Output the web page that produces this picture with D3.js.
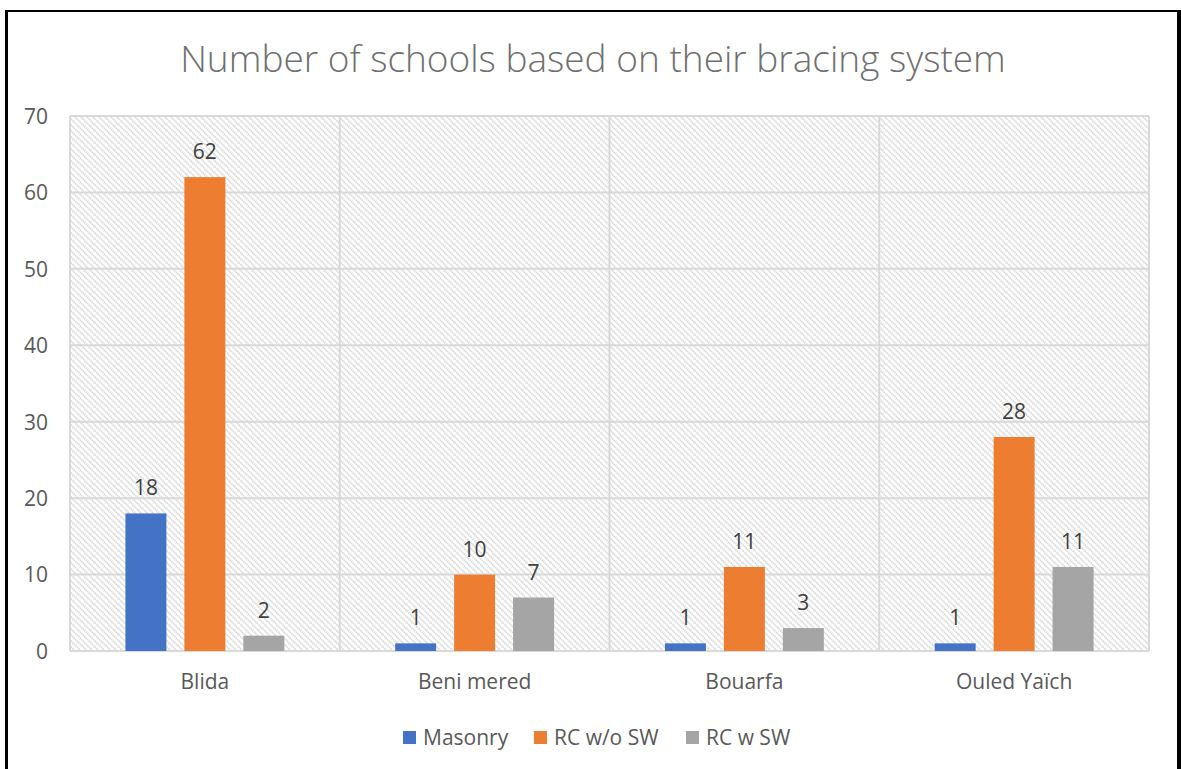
<!DOCTYPE html>
<html>
<head>
<meta charset="utf-8">
<script src="https://cdn.jsdelivr.net/npm/d3@7"></script>
<style>
  html, body { margin: 0; padding: 0; background: #ffffff; }
  svg { display: block; }
  text { font-family: "Open Sans", "Noto Sans", sans-serif; }
</style>
</head>
<body>
<svg id="chart" width="1181" height="769"></svg>
<script>
// Schools per town, split by structural bracing system
const towns = ["Blida", "Beni mered", "Bouarfa", "Ouled Yaïch"];
const seriesNames = ["Masonry", "RC w/o SW", "RC w SW"];
const masonry = [18, 1, 1, 1];
const rcWithoutSW = [62, 10, 11, 28];
const rcWithSW = [2, 7, 3, 11];
const yTicks = [0, 10, 20, 30, 40, 50, 60, 70];
const seriesColors = ["#4472c4", "#ed7d31", "#a5a5a5"];
const titleText = "Number of schools based on their bracing system";

const seriesValues = [masonry, rcWithoutSW, rcWithSW];

const svg = d3.select("#chart");
const W = 1181, H = 769;
const plot = { left: 70, top: 116, right: 1149, bottom: 651 };

// Frame around the chart
const frame = svg.append("g").attr("stroke", "#000").attr("fill", "none");
frame.append("line").attr("x1", 6.5).attr("x2", 6.5).attr("y1", 10).attr("y2", H).attr("stroke-width", 3);
frame.append("line").attr("x1", 5).attr("x2", 1181).attr("y1", 11).attr("y2", 11).attr("stroke-width", 2);
frame.append("line").attr("x1", 1179).attr("x2", 1179).attr("y1", 10).attr("y2", H).attr("stroke-width", 4);

// Diagonal hatch fill for the plot area
const defs = svg.append("defs");
const pat = defs.append("pattern")
  .attr("id", "hatch")
  .attr("patternUnits", "userSpaceOnUse")
  .attr("width", 6).attr("height", 6);
pat.append("rect").attr("width", 6).attr("height", 6).attr("fill", "#ffffff");
pat.append("path")
  .attr("d", "M-1,-1 L7,7 M-1,5 L1,7 M5,-1 L7,1")
  .attr("stroke", "#d6d6d6")
  .attr("stroke-width", 1.7)
  .attr("stroke-dasharray", "1.4,0.6");

svg.append("rect")
  .attr("x", plot.left).attr("y", plot.top)
  .attr("width", plot.right - plot.left)
  .attr("height", plot.bottom - plot.top)
  .attr("fill", "url(#hatch)");

// Scales
const x0 = d3.scaleBand().domain(towns).range([plot.left, plot.right]).padding(0);
const x1 = d3.scaleBand().domain(seriesNames).range([0, x0.bandwidth()])
  .paddingInner(0.305).paddingOuter(0.94);
const y = d3.scaleLinear().domain([0, 70]).range([plot.bottom, plot.top]);

// Horizontal gridlines
svg.append("g")
  .selectAll("line")
  .data(yTicks)
  .join("line")
  .attr("x1", plot.left).attr("x2", plot.right)
  .attr("y1", d => y(d)).attr("y2", d => y(d))
  .attr("stroke", "#d9d9d9").attr("stroke-width", 2);

// Vertical category dividers
const dividers = towns.map(t => x0(t)).concat([plot.right]);
svg.append("g")
  .selectAll("line")
  .data(dividers)
  .join("line")
  .attr("x1", d => d).attr("x2", d => d)
  .attr("y1", plot.top).attr("y2", plot.bottom)
  .attr("stroke", "#d9d9d9").attr("stroke-width", 2);

// Y axis labels
const yAxis = d3.axisLeft(y).tickValues(yTicks).tickSize(0).tickPadding(0);
const yg = svg.append("g").attr("transform", `translate(48,0)`).call(yAxis);
yg.select(".domain").remove();
yg.selectAll("text")
  .attr("fill", "#595959")
  .style("font-size", "21px")
  .attr("dy", "0.35em");

// X axis labels
const xAxis = d3.axisBottom(x0).tickSize(0).tickPadding(0);
const xg = svg.append("g").attr("transform", `translate(0,${plot.bottom + 23})`).call(xAxis);
xg.select(".domain").remove();
xg.selectAll("text")
  .attr("fill", "#595959")
  .style("font-size", "21px")
  .attr("dy", "0.71em");

// Bars
const rows = towns.map((t, i) => ({
  town: t,
  items: seriesNames.map((s, j) => ({ series: s, value: seriesValues[j][i], color: seriesColors[j] }))
}));

const groups = svg.append("g")
  .selectAll("g")
  .data(rows)
  .join("g")
  .attr("transform", d => `translate(${x0(d.town)},0)`);

groups.selectAll("rect")
  .data(d => d.items)
  .join("rect")
  .attr("x", d => x1(d.series))
  .attr("y", d => y(d.value))
  .attr("width", x1.bandwidth())
  .attr("height", d => y(0) - y(d.value))
  .attr("fill", d => d.color);

groups.selectAll("text")
  .data(d => d.items)
  .join("text")
  .attr("x", d => x1(d.series) + x1.bandwidth() / 2)
  .attr("y", d => y(d.value) - 18)
  .attr("text-anchor", "middle")
  .attr("fill", "#404040")
  .style("font-size", "21px")
  .text(d => d.value);

// Title
svg.append("text")
  .attr("x", 593).attr("y", 72)
  .attr("text-anchor", "middle")
  .attr("fill", "#6f6f6f")
  .style("font-size", "37px")
  .style("font-weight", 300)
  .text(titleText);

// Legend
const legendItems = [
  { name: seriesNames[0], color: seriesColors[0], x: 403 },
  { name: seriesNames[1], color: seriesColors[1], x: 534 },
  { name: seriesNames[2], color: seriesColors[2], x: 686 }
];
const lg = svg.append("g").selectAll("g").data(legendItems).join("g")
  .attr("transform", d => `translate(${d.x},731)`);
lg.append("rect").attr("width", 13).attr("height", 13).attr("fill", d => d.color);
lg.append("text")
  .attr("x", 20).attr("y", 6.5).attr("dy", "0.35em")
  .attr("fill", "#595959")
  .style("font-size", "21px")
  .text(d => d.name);
</script>
</body>
</html>
